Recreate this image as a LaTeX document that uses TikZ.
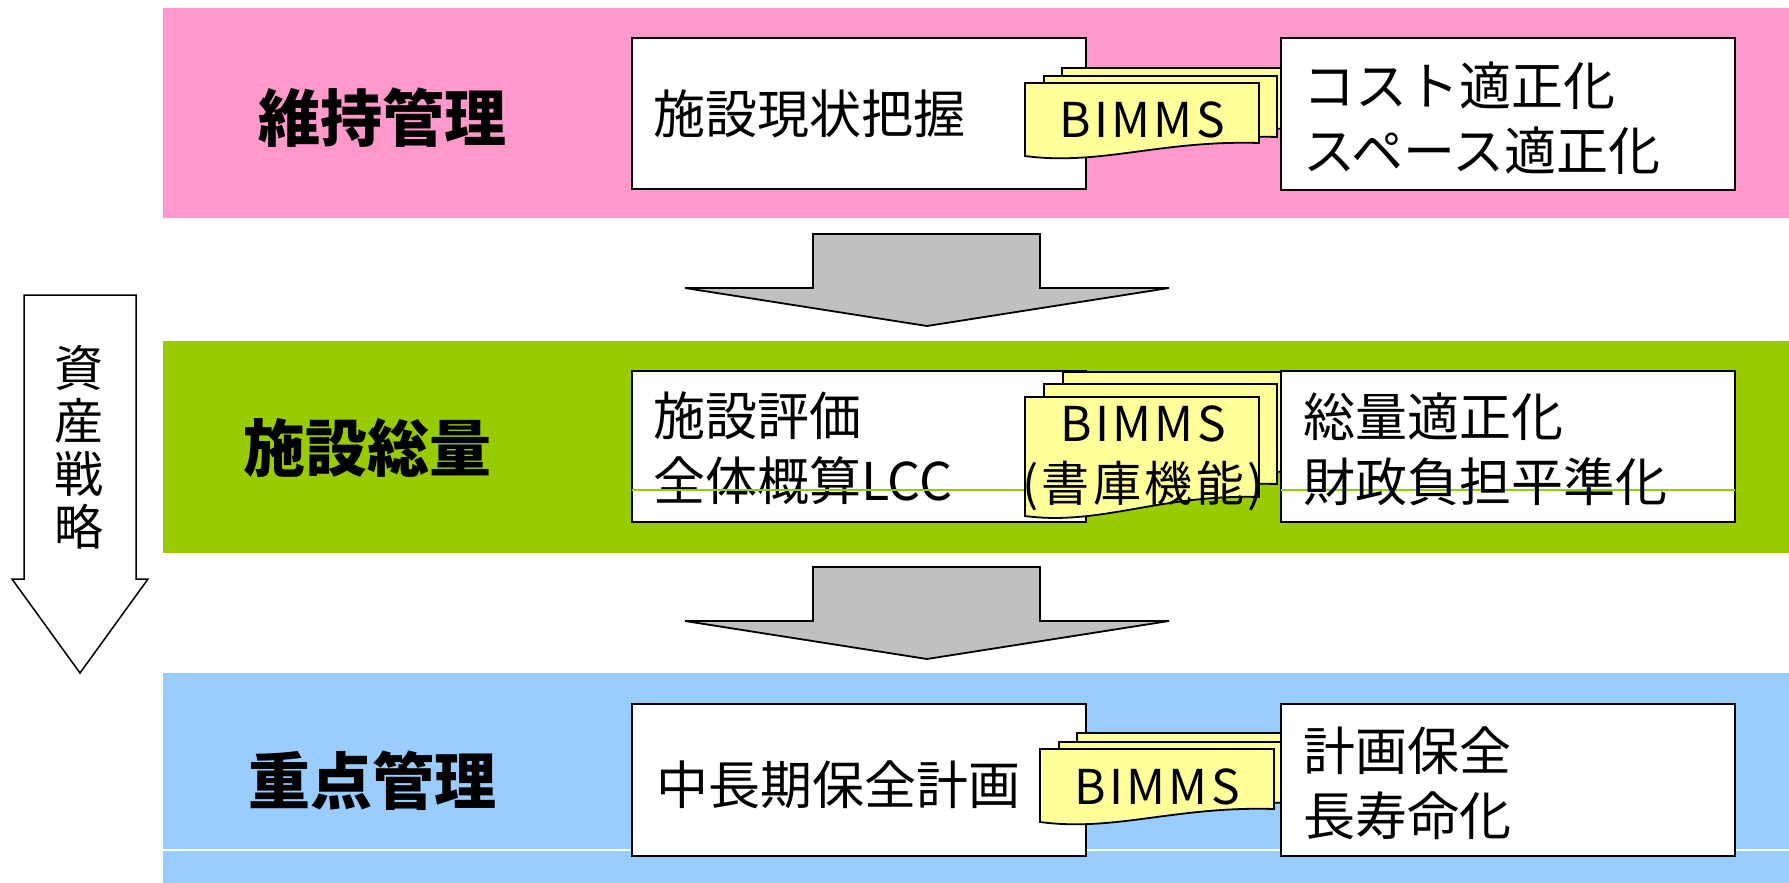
\documentclass[tikz,border=0pt]{standalone}
\usepackage{fontspec}
\setmainfont{Noto Sans CJK JP}
\definecolor{bandpink}{HTML}{FF99CC}
\definecolor{bandgreen}{HTML}{99CC00}
\definecolor{bandblue}{HTML}{99CCFF}
\definecolor{sheetyellow}{HTML}{FFFF99}
\definecolor{arrowgrey}{HTML}{C0C0C0}
\newcommand\docsheet[5]{%
  \draw[sheetstyle] (#1,#2) -- (#3,#2) -- (#3,#5)
    .. controls ({#1+0.58*(#3-#1)},{#5-3}) and ({#1+0.32*(#3-#1)},{#4+10}) .. (#1,#4) -- cycle;}
\begin{document}
\begin{tikzpicture}[x=1pt,y=-1pt,
  boxstyle/.style={draw=black,fill=white,line width=1.8pt},
  sheetstyle/.style={draw=black,fill=sheetyellow,line width=1.8pt,line join=miter},
  blockarrow/.style={draw=black,fill=arrowgrey,line width=1.8pt,line join=miter},
  bodytext/.style={font=\fontsize{52}{65}\selectfont,anchor=west,align=left,inner sep=0pt},
  labeltext/.style={font=\fontsize{62}{62}\selectfont\bfseries,inner sep=0pt},
  sheettext/.style={font=\fontsize{48}{60}\selectfont\addfontfeatures{LetterSpace=7},align=center,inner sep=0pt}]
\useasboundingbox (0,0) rectangle (1789,883);
\fill[white] (0,0) rectangle (1789,883);
% bands
\fill[bandpink] (163,8) rectangle (1789,218);
\fill[bandgreen] (163,341) rectangle (1789,553);
\fill[bandblue] (163,673) rectangle (1789,883);
\draw[white,line width=1.5pt] (163,850) -- (1789,850);
% grey arrows
\draw[blockarrow] (813,234) -- (1040,234) -- (1040,288) -- (1169,288) -- (927,326) -- (685,288) -- (813,288) -- cycle;
\draw[blockarrow] (813,567) -- (1040,567) -- (1040,621) -- (1169,621) -- (927,659) -- (685,621) -- (813,621) -- cycle;
% left arrow
\draw[draw=black,fill=white,line width=1.5pt,line join=miter] (24,295) -- (136,295) -- (136,579) -- (148,579) -- (80,673) -- (12,579) -- (24,579) -- cycle;
\node[font=\fontsize{49}{53}\selectfont,align=center,inner sep=0pt] (strategy) at (79,447) {資\\産\\戦\\略};
% band labels
\node[labeltext] (lab1) at (382,118) {維持管理};
\node[labeltext] (lab2) at (367,448) {施設総量};
\node[labeltext] (lab3) at (372,781) {重点管理};
% left boxes
\draw[boxstyle] (632,38) rectangle (1086,189);
\draw[boxstyle] (632,371) rectangle (1086,522);
\draw[boxstyle] (632,704) rectangle (1086,856);
\node[bodytext] (b1l) at (653,114) {施設現状把握};
\node[bodytext] (b2l) at (653,448) {施設評価\\全体概算LCC};
\node[bodytext] (b3l) at (656,785) {中長期保全計画};
% green line
\draw[bandgreen,line width=1.5pt] (632,490) -- (1735,490);
% sheets band 1
\docsheet{1062}{68}{1295}{140}{129}
\docsheet{1044}{76}{1277}{148}{137}
\docsheet{1025}{83}{1259}{156}{143}
% sheets band 2
\docsheet{1063}{372}{1295}{490}{472}
\docsheet{1044}{384}{1277}{502}{484}
\docsheet{1025}{397}{1259}{516}{497}
% sheets band 3
\docsheet{1077}{733}{1300}{808}{796}
\docsheet{1059}{742}{1290}{815}{803}
\docsheet{1040}{749}{1274}{822}{809}
\node[sheettext] (s1) at (1142,120) {BIMMS};
\node[sheettext] (s2) at (1143,458) {BIMMS\\(書庫機能)};
\node[sheettext] (s3) at (1157,787) {BIMMS};
% right boxes
\draw[boxstyle] (1281,38) rectangle (1735,190);
\draw[boxstyle] (1281,371) rectangle (1735,522);
\draw[boxstyle] (1281,704) rectangle (1735,856);
\draw[bandgreen,line width=1.5pt] (1281,490) -- (1735,490);
\node[bodytext] (b1r) at (1303,118) {コスト適正化\\スペース適正化};
\node[bodytext] (b2r) at (1303,449) {総量適正化\\財政負担平準化};
\node[bodytext] (b3r) at (1303,783) {計画保全\\長寿命化};
\end{tikzpicture}
\end{document}
